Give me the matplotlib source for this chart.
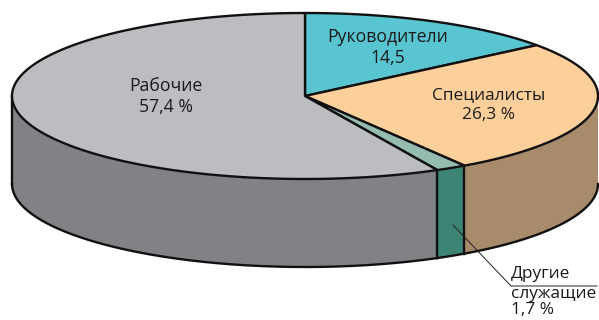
import numpy as np
import matplotlib.pyplot as plt
from matplotlib.patches import Polygon

# Shares in %, clockwise from the top
categories = ['Руководители', 'Специалисты', 'Другие служащие', 'Рабочие']
values = [14.5, 26.3, 1.7, 57.4]
top_colors = ['#58c5d1', '#fdcf9b', '#95bcb0', '#bcbdc1']
side_colors = [None, '#a88b6b', '#3e8474', '#808285']

# Pie geometry in pixels
cx, cy = 305, 96
rx, ry = 293, 83
depth = 88
line = '#111111'

plt.rcParams['font.family'] = ['Open Sans', 'DejaVu Sans']

fig = plt.figure(figsize=(5.99, 3.2), dpi=100)
ax = fig.add_axes([0, 0, 1, 1])
ax.set_xlim(0, 599)
ax.set_ylim(320, 0)
ax.axis('off')


def rim(a0, a1):
    a = np.radians(np.linspace(a0, a1, 200))
    return cx + rx * np.sin(a), cy - ry * np.cos(a)


edges = np.concatenate([[0], np.cumsum(values)]) / sum(values) * 360

# Side wall: only the front half of the rim (90..270 degrees) shows
# no outline on the far right edge, so fill and lines are drawn apart
for i in range(len(values)):
    a0, a1 = max(edges[i], 90), min(edges[i + 1], 270)
    if a1 <= a0:
        continue
    x, y = rim(a0, a1)
    xs = np.concatenate([x, x[::-1]])
    ys = np.concatenate([y, y[::-1] + depth])
    ax.add_patch(Polygon(np.column_stack([xs, ys]), closed=True, fc=side_colors[i],
                         ec='none', zorder=2))
    ax.plot(x, y + depth, color=line, lw=1.7, zorder=2.5)
    ax.plot([x[-1], x[-1]], [y[-1], y[-1] + depth], color=line, lw=1.7, zorder=2.5)

# Top face
for i in range(len(values)):
    x, y = rim(edges[i], edges[i + 1])
    xs = np.concatenate([[cx], x])
    ys = np.concatenate([[cy], y])
    ax.add_patch(Polygon(np.column_stack([xs, ys]), closed=True, fc=top_colors[i],
                         ec=line, lw=1.7, joinstyle='round', zorder=3))

fs = 12.7
ax.text(388, 37, 'Руководители', ha='center', va='center', fontsize=fs, color='#1a1a1a', zorder=5)
ax.text(388, 58, '14,5', ha='center', va='center', fontsize=fs, color='#1a1a1a', zorder=5)
ax.text(489, 95, 'Специалисты', ha='center', va='center', fontsize=fs - 0.3, color='#1a1a1a', zorder=5)
ax.text(489, 115, '26,3 %', ha='center', va='center', fontsize=fs - 0.3, color='#1a1a1a', zorder=5)
ax.text(166, 86, 'Рабочие', ha='center', va='center', fontsize=fs, color='#1a1a1a', zorder=5)
ax.text(166, 107, '57,4 %', ha='center', va='center', fontsize=fs, color='#1a1a1a', zorder=5)

# Leader line for the small slice
ax.plot([453, 511, 597], [225, 286, 286], color='#222222', lw=0.7, zorder=6)
ax.text(511, 274, 'Другие', ha='left', va='center', fontsize=fs - 0.3, color='#1a1a1a', zorder=5)
ax.text(511, 294, 'служащие', ha='left', va='center', fontsize=fs - 0.3, color='#1a1a1a', zorder=5)
ax.text(511, 310, '1,7 %', ha='left', va='center', fontsize=fs - 0.3, color='#1a1a1a', zorder=5)

fig.savefig('out.png', dpi=100)
